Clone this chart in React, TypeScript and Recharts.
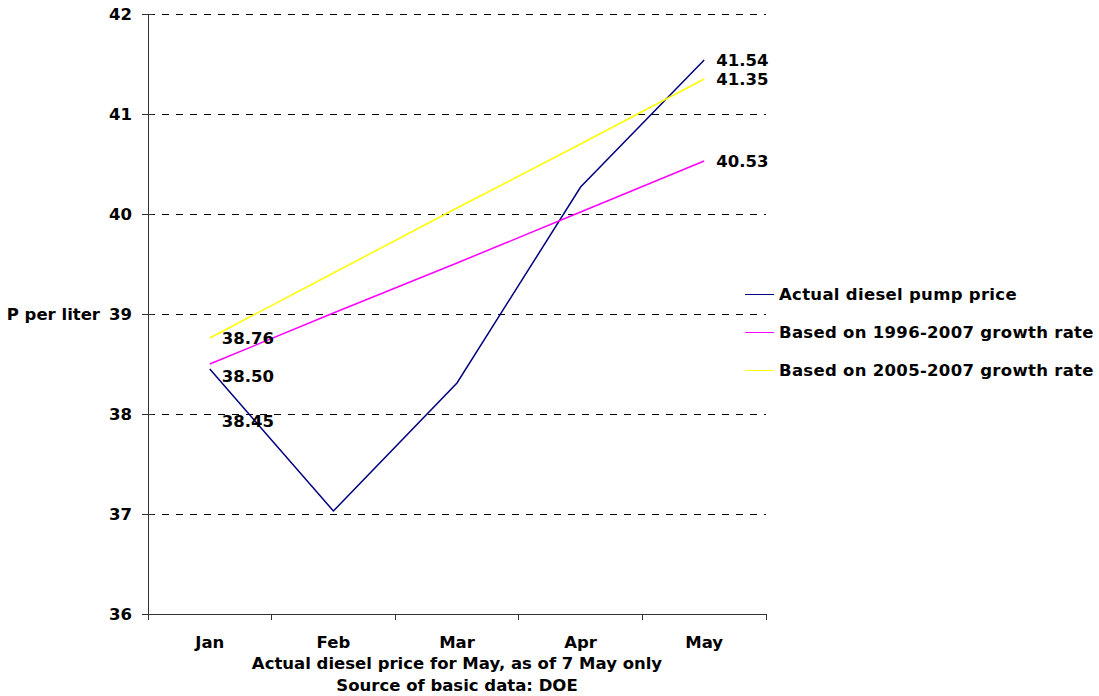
import { LineChart, Line, XAxis, YAxis, CartesianGrid, Legend, LabelList, Label } from "recharts";

const months = ["Jan", "Feb", "Mar", "Apr", "May"];
const actualPrice = [38.45, 37.03, 38.31, 40.27, 41.54];
const rate9607 = [38.5, 39.01, 39.51, 40.02, 40.53];
const rate0507 = [38.76, 39.41, 40.06, 40.7, 41.35];
const yTicks = [36, 37, 38, 39, 40, 41, 42];

const data = months.map((m, i) => ({
  month: m,
  actual: actualPrice[i],
  r9607: rate9607[i],
  r0507: rate0507[i],
}));

const FONT = "'DejaVu Sans', Verdana, sans-serif";
const FS = 16.5;

// ============[ TICKS ]============
const MonthTick = (props: any) => {
  const { x, y, payload, index, visibleTicksCount } = props;
  const half = payload.offset ?? 0;
  return (
    <g>
      <line x1={x - half} x2={x - half} y1={y} y2={y + 6} stroke="#333" shapeRendering="crispEdges" />
      {index === visibleTicksCount - 1 && (
        <line x1={x + half} x2={x + half} y1={y} y2={y + 6} stroke="#333" shapeRendering="crispEdges" />
      )}
      <text x={x} y={y + 28} textAnchor="middle" dominantBaseline="central" fontSize={FS} fontWeight="bold" fill="#000" fontFamily={FONT}>
        {payload.value}
      </text>
    </g>
  );
};

const PriceTick = (props: any) => {
  const { x, y, payload } = props;
  return (
    <g>
      <line x1={x - 6} x2={x + 5} y1={y} y2={y} stroke="#333" shapeRendering="crispEdges" />
      <text x={x - 16} y={y} textAnchor="end" dominantBaseline="central" fontSize={FS} fontWeight="bold" fill="#000" fontFamily={FONT}>
        {payload.value}
      </text>
    </g>
  );
};

// ============[ END LABELS ]============
const endLabel = (firstDy: number) => (props: any) => {
  const { x, y, value, index } = props;
  if (index !== 0 && index !== months.length - 1) return null;
  const dy = index === 0 ? firstDy : 0;
  return (
    <text x={x + 12} y={y + dy} dominantBaseline="central" fontSize={FS} fontWeight="bold" fill="#000" fontFamily={FONT}>
      {value.toFixed(2)}
    </text>
  );
};

const LegendBox = ({ payload }: any) => (
  <div style={{ fontFamily: FONT, fontSize: FS, fontWeight: "bold", color: "#000", textAlign: "left", letterSpacing: 0.3 }}>
    {payload.map((entry: any, i: number) => (
      <div key={i} style={{ display: "flex", alignItems: "center", height: 38, whiteSpace: "nowrap" }}>
        <span style={{ display: "inline-block", width: 29, height: 0, borderTop: `1.5px solid ${entry.color}`, marginRight: 5 }} />
        {entry.value}
      </div>
    ))}
  </div>
);

export default function App() {
  return (
    <div style={{ position: "absolute", left: 0, top: 0, background: "#fff" }}>
      <style>{`.recharts-cartesian-grid line, .recharts-cartesian-axis-line { shape-rendering: crispEdges; }`}</style>
      <LineChart width={1099} height={696} data={data} margin={{ top: 14, right: 333, left: 100, bottom: 0 }}>
        <CartesianGrid vertical={false} stroke="#000" strokeDasharray="7 7" />
        <XAxis
          dataKey="month"
          scale="band"
          stroke="#333"
          tickLine={false}
          tickSize={0}
          tickMargin={0}
          height={82}
          interval={0}
          tick={<MonthTick />}
        >
          <Label
            content={(p: any) => {
              const vb = p.viewBox;
              const cx = vb.x + vb.width / 2;
              return (
                <g fontFamily={FONT} fontSize={FS} fontWeight="bold" fill="#000">
                  <text x={cx} y={vb.y + 49} textAnchor="middle" dominantBaseline="central">
                    Actual diesel price for May, as of 7 May only
                  </text>
                  <text x={cx} y={vb.y + 71} textAnchor="middle" dominantBaseline="central">
                    Source of basic data: DOE
                  </text>
                </g>
              );
            }}
          />
        </XAxis>
        <YAxis
          domain={[36, 42]}
          ticks={yTicks}
          width={48}
          stroke="#333"
          tickLine={false}
          tickSize={0}
          tickMargin={0}
          interval={0}
          tick={<PriceTick />}
        >
          <Label
            content={(p: any) => {
              const vb = p.viewBox;
              return (
                <text x={vb.x} y={vb.y + vb.height / 2} textAnchor="end" dominantBaseline="central" fontFamily={FONT} fontSize={FS} fontWeight="bold" fill="#000">
                  P per liter
                </text>
              );
            }}
          />
        </YAxis>
        <Legend
          layout="vertical"
          align="center"
          verticalAlign="middle"
          content={<LegendBox />}
          wrapperStyle={{ left: 745, top: 275, width: 354 }}
        />
        <Line dataKey="actual" name="Actual diesel pump price" stroke="#000080" strokeWidth={1.5} dot={false} isAnimationActive={false}>
          <LabelList dataKey="actual" content={endLabel(52)} />
        </Line>
        <Line dataKey="r9607" name="Based on 1996-2007 growth rate" stroke="#FF00FF" strokeWidth={1.5} dot={false} isAnimationActive={false}>
          <LabelList dataKey="r9607" content={endLabel(12)} />
        </Line>
        <Line dataKey="r0507" name="Based on 2005-2007 growth rate" stroke="#FFFF00" strokeWidth={1.5} dot={false} isAnimationActive={false}>
          <LabelList dataKey="r0507" content={endLabel(0)} />
        </Line>
      </LineChart>
    </div>
  );
}
